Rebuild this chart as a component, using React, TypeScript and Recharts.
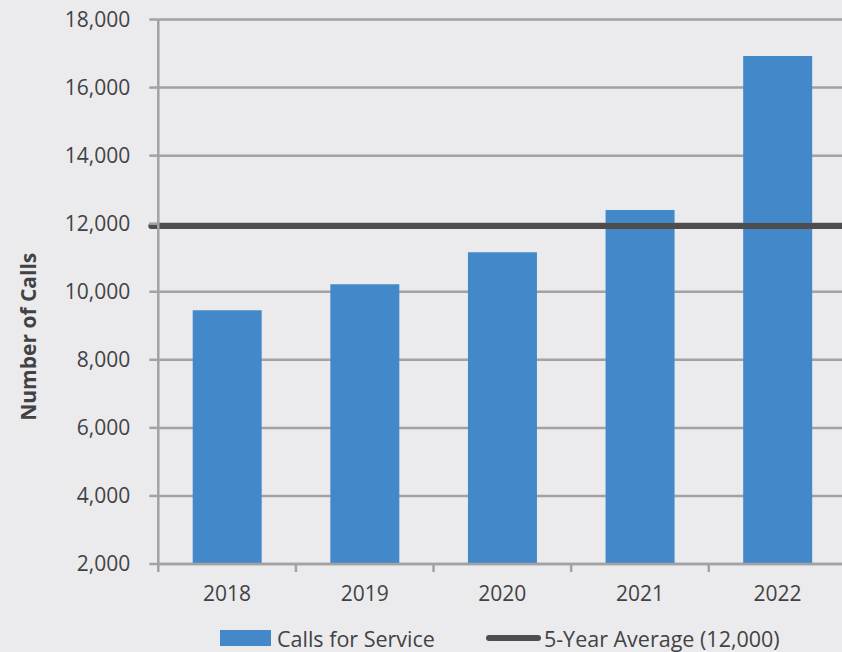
import {
  Bar,
  BarChart,
  CartesianGrid,
  Label,
  ReferenceLine,
  XAxis,
  YAxis,
} from "recharts";

const years = ["2018", "2019", "2020", "2021", "2022"];
const calls = [9460, 10220, 11160, 12400, 16930];
const yTicks = [2000, 4000, 6000, 8000, 10000, 12000, 14000, 16000, 18000];
const averageLevel = 11930;
const averageLabel = "5-Year Average (12,000)";
const seriesLabel = "Calls for Service";

const BG = "#ebebed";
const BLUE = "#4389c9";
const DARK = "#4d4d4f";
const GRID = "#a2a2a4";
const TEXT = "#424244";
const FONT = "'Open Sans', 'Noto Sans', sans-serif";

const data = years.map((year, i) => ({ year, calls: calls[i] }));

function YearTick(props: any) {
  const { x, y, payload } = props;
  const half = payload?.offset ?? 0;
  return (
    <g>
      <line x1={x - half} x2={x - half} y1={y - 8} y2={y} stroke={GRID} strokeWidth={2.5} />
      <text x={x} y={y + 22} dy="0.355em" textAnchor="middle" fill={TEXT} fontSize={21} fontFamily={FONT}>
        {payload.value}
      </text>
    </g>
  );
}

function AvgLine(props: any) {
  const { x1, x2, y1, y2 } = props;
  return (
    <line
      x1={x1 - 7}
      x2={x2 + 10}
      y1={y1}
      y2={y2}
      stroke={DARK}
      strokeWidth={6}
      strokeLinecap="round"
    />
  );
}

function AxisTitle(props: any) {
  const { viewBox } = props;
  const cy = viewBox.y + viewBox.height / 2 + 45;
  return (
    <text
      transform={`translate(27.5, ${cy}) rotate(-90)`}
      textAnchor="middle"
      dominantBaseline="central"
      fill={TEXT}
      fontSize={21}
      fontWeight={700}
      fontFamily={FONT}
    >
      Number of Calls
    </text>
  );
}

export default function App() {
  return (
    <div
      style={{
        position: "absolute",
        left: 0,
        top: 0,
        width: 842,
        height: 652,
        overflow: "hidden",
        background: BG,
        fontFamily: FONT,
      }}
    >
      <BarChart
        width={848}
        height={652}
        data={data}
        margin={{ top: 19.5, right: 1.6, left: 0, bottom: 58 }}
        barCategoryGap="25%"
      >
        <CartesianGrid vertical={false} stroke={GRID} strokeWidth={2.5} />
        <XAxis
          dataKey="year"
          height={30}
          tickLine={false}
          tickSize={8}
          tickMargin={0}
          axisLine={{ stroke: GRID, strokeWidth: 2.5 }}
          tick={<YearTick />}
          interval={0}
        />
        <YAxis
          width={158.3}
          domain={[2000, 18000]}
          ticks={yTicks}
          allowDataOverflow
          tickSize={9}
          tickMargin={19}
          tickLine={{ stroke: GRID, strokeWidth: 2.5 }}
          axisLine={{ stroke: GRID, strokeWidth: 2.5 }}
          tick={{ fill: TEXT, fontSize: 21, fontFamily: FONT }}
          tickFormatter={(v) => v.toLocaleString("en-US")}
        >
          <Label content={<AxisTitle />} />
        </YAxis>
        <Bar dataKey="calls" fill={BLUE} isAnimationActive={false} />
        <ReferenceLine y={averageLevel} shape={<AvgLine />} ifOverflow="visible" />
      </BarChart>
      <div
        style={{
          position: "absolute",
          top: 626,
          left: 220,
          height: 24,
          display: "flex",
          alignItems: "center",
          fontSize: 21.5,
          color: TEXT,
          whiteSpace: "nowrap",
        }}
      >
        <span style={{ width: 51, height: 16, background: BLUE, display: "inline-block" }} />
        <span style={{ marginLeft: 6 }}>{seriesLabel}</span>
        <span
          style={{
            marginLeft: 51,
            width: 55,
            height: 6,
            borderRadius: 3,
            background: DARK,
            display: "inline-block",
          }}
        />
        <span style={{ marginLeft: 3 }}>{averageLabel}</span>
      </div>
    </div>
  );
}
